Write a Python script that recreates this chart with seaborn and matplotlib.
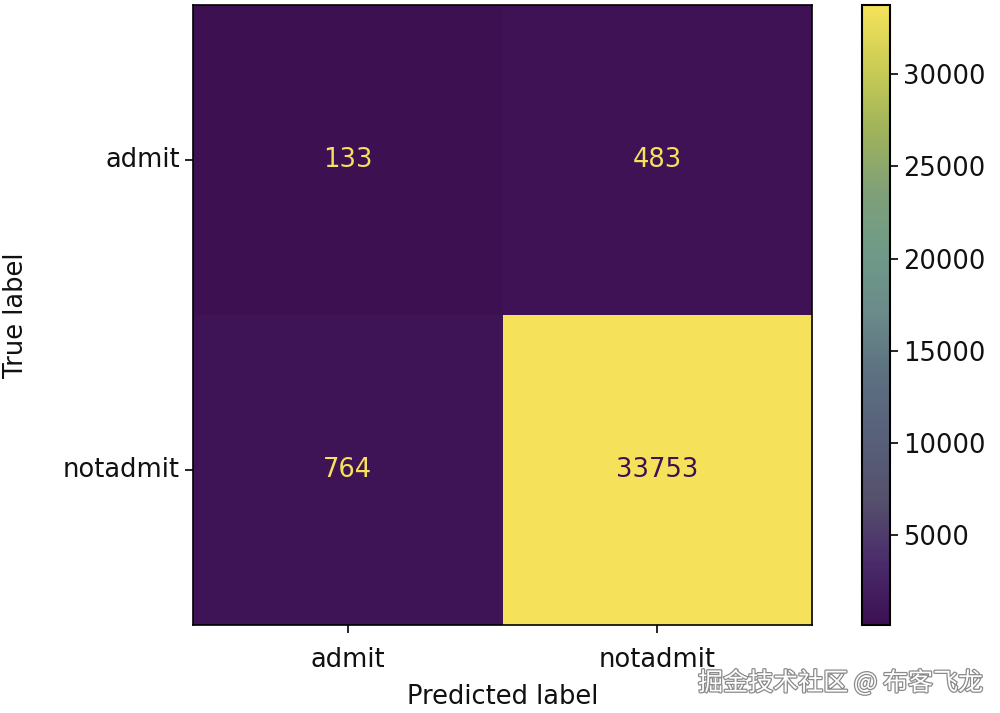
import numpy as np
import pandas as pd
import seaborn as sns
import matplotlib
matplotlib.use("Agg")
import matplotlib.pyplot as plt
import matplotlib.patheffects as pe
from matplotlib.colors import LinearSegmentedColormap

# confusion matrix
classes = ["admit", "notadmit"]
row_admit = [133, 483]
row_notadmit = [764, 33753]
cbar_ticks = [5000, 10000, 15000, 20000, 25000, 30000]

# washed-out viridis, sampled from the reference colourbar (bottom -> top)
cmap_colors = ["#3d1052", "#4a2c6a", "#55506c", "#58607a", "#5c6f80",
               "#6a8a8a", "#6f9a88", "#7fa078", "#a0b35a", "#c9cc55", "#f5e25a"]

sns.set_style("white")
plt.rcParams["font.family"] = "DejaVu Sans"

cm = pd.DataFrame([row_admit, row_notadmit], index=classes, columns=classes)
cmap = LinearSegmentedColormap.from_list("faded_viridis", cmap_colors)

fig = plt.figure(figsize=(10, 7.13), dpi=100)
ax = fig.add_axes([0.193, 0.1234, 0.619, 0.8696])
cax = fig.add_axes([0.862, 0.1234, 0.028, 0.8696])

fs = 18.5
sns.heatmap(cm, ax=ax, cbar_ax=cax, cmap=cmap, annot=True, fmt="d",
            annot_kws={"fontsize": fs}, square=False,
            cbar_kws={"ticks": cbar_ticks})

# sklearn-like text colours: light text on dark cells, dark on bright
vmin, vmax = cm.values.min(), cm.values.max()
thresh = (vmin + vmax) / 2
for txt, val in zip(ax.texts, cm.values.flatten()):
    txt.set_color(cmap(0) if val >= thresh else cmap(1.0))

for sp in ax.spines.values():
    sp.set_visible(True)
    sp.set_color("black")
    sp.set_linewidth(1.2)

ax.tick_params(axis="both", which="both", length=6, width=1.2, labelsize=fs,
               bottom=True, left=True, color="black", labelcolor="#111111")
ax.tick_params(axis="x", pad=10)
ax.set_yticklabels(classes, rotation=0)
ax.set_xticklabels(classes, rotation=0)
ax.set_xlabel("Predicted label", fontsize=fs, color="#111111", labelpad=8)
ax.set_ylabel("True label", fontsize=fs, color="#111111", labelpad=24)

cb = ax.collections[0].colorbar
cb.outline.set_visible(True)
cb.outline.set_edgecolor("black")
cb.outline.set_linewidth(1.5)
cax.tick_params(labelsize=fs, length=6, width=1.2, right=True, color="black",
                labelcolor="#111111")

fig.text(0.983, 0.042, "掘金技术社区 @ 布客飞龙", ha="right", va="center",
         fontsize=18, color="white", family=["Noto Sans CJK SC", "DejaVu Sans"],
         path_effects=[pe.withStroke(linewidth=1.8, foreground="#8a8a8a")])

fig.savefig("out.png", dpi=100)
